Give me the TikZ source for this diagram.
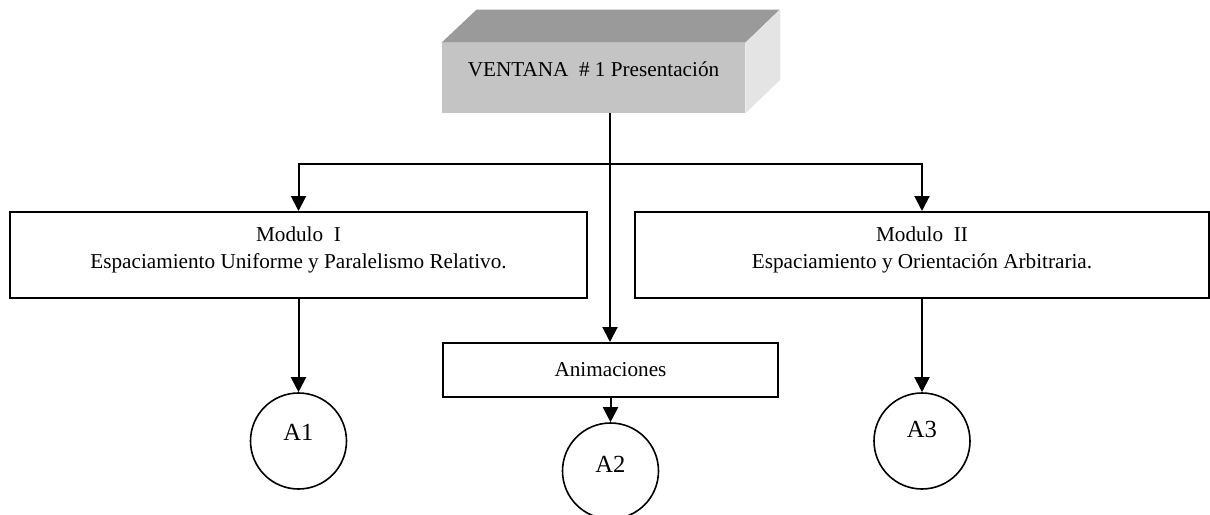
\documentclass[tikz,border=0pt]{standalone}
\usepackage{fontspec}
\setmainfont{Liberation Serif}
\usetikzlibrary{arrows.meta}

\definecolor{grisfrente}{HTML}{C4C4C4}
\definecolor{gristapa}{HTML}{9A9A9A}
\definecolor{grislado}{HTML}{E4E4E4}

\tikzset{
    caja/.style={draw, line width=1pt, align=center, inner sep=2pt},
    flecha/.style={line width=1pt, -{Triangle[length=7.5pt,width=7.5pt]}},
    circulo/.style={draw, circle, line width=0.8pt, minimum size=48pt, inner sep=0pt},
    texto/.style={font=\fontsize{10.6}{13.5}\selectfont},
    letra/.style={font=\fontsize{12.3}{14}\selectfont}
}

\begin{document}
\begin{tikzpicture}[x=0.5pt, y=-0.5pt, every node/.style={texto}]
    \useasboundingbox (0,0) rectangle (1210,514);
    \clip (0,0) rectangle (1210,514);

    % Ventana principal (caja en relieve)
    \node[fill=grisfrente, minimum width=151.5pt, minimum height=35pt, text depth=9pt] (ventana) at (593.5,78)
        {VENTANA\ \ \#\ 1 Presentación};
    \fill[gristapa] (ventana.north west) -- ++(35,-33) -- ++(303,0) -- (ventana.north east) -- cycle;
    \fill[grislado] (ventana.north east) -- ++(35,-33) -- ++(0,70) -- (ventana.south east) -- cycle;

    % Modulos
    \node[caja, minimum width=288.5pt, minimum height=43pt, text depth=7pt] (modI) at (298.5,255)
        {Modulo\ \ I\\Espaciamiento Uniforme y Paralelismo Relativo.};
    \node[caja, minimum width=287pt, minimum height=43pt, text depth=7pt] (modII) at (922,255)
        {Modulo\ \ II\\Espaciamiento y Orientación Arbitraria.};
    \node[caja, minimum width=167.5pt, minimum height=27pt] (anim) at (610.5,370) {Animaciones};

    % Circulos
    \node[circulo, label={[letra, yshift=4.5pt]center:A1}] (a1) at (298.5,441) {};
    \node[circulo, label={[letra, yshift=3.5pt]center:A2}] (a2) at (610.5,471) {};
    \node[circulo, label={[letra, yshift=6pt]center:A3}] (a3) at (922,441) {};

    % Conexiones
    \coordinate (reparto) at (610,164);
    \draw[flecha] (ventana.south -| reparto) -- (anim.north -| reparto);
    \draw[flecha] (reparto) -| (modI.north);
    \draw[flecha] (reparto) -| (modII.north);
    \draw[flecha] (modI.south) -- (a1.north);
    \draw[flecha] (anim.south) -- (a2.north);
    \draw[flecha] (modII.south) -- (a3.north);
\end{tikzpicture}
\end{document}
